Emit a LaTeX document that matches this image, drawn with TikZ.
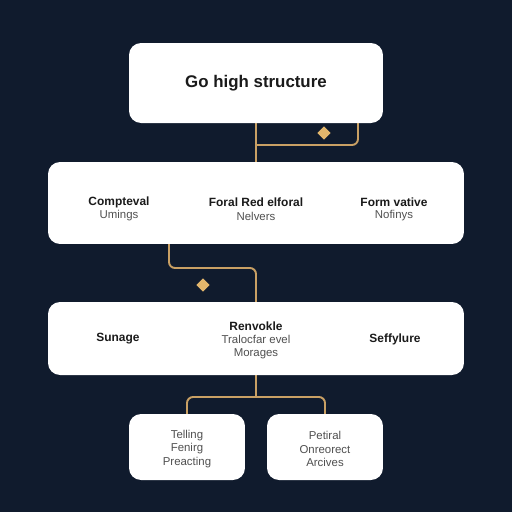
\documentclass[tikz,border=0pt]{standalone}
\usepackage{fontspec}
\setmainfont{Liberation Sans}
\usetikzlibrary{shapes.geometric}
\definecolor{fond}{HTML}{101B2D}
\definecolor{or}{HTML}{C9A064}
\definecolor{orclair}{HTML}{E2B66C}
\definecolor{encre}{HTML}{1A1A1A}
\definecolor{gris}{HTML}{505050}

\begin{document}
\begin{tikzpicture}[x=0.02cm,y=-0.02cm,
	boite/.style={rounded corners=0.24cm,fill=white,inner sep=0pt},
	titre/.style={font=\bfseries\fontsize{6.8}{7.9}\selectfont,text=encre},
	sous/.style={font=\fontsize{6.5}{7.9}\selectfont,text=gris,align=center},
	lien/.style={draw=or,line width=1.1pt,rounded corners=0.12cm},
	etoile/.style={diamond,aspect=1,fill=orclair,inner sep=0pt,minimum size=0.27cm}]

		%fond : 512 x 512 px, 1 px = 0.02 cm
		\fill[fond] (0,0) rectangle (512,512);
		\useasboundingbox (0,0) rectangle (512,512);

		%\coordinate (nom) at(x,y) : points des coudes
		\coordinate (coude 0) at(358,145);
		\coordinate (coude 1) at(169,268);
		\coordinate (fourche) at(256,397);

		%connecteurs avant les boites
		\draw[lien] (256,123) -- (256,162);
		\draw[lien] (256,145) -- (coude 0) -- (358,123);
		\draw[lien] (coude 1 |- 0,244) -- (coude 1) -- (256,268) -- (256,302);
		\draw[lien] (256,375) -- (fourche);
		\draw[lien] (187,415) |- (fourche) -| (325,415);

		%boites
		\node (node 0) at(256,83) [boite,minimum width=5.08cm,minimum height=1.6cm,font=\bfseries\fontsize{9.6}{11}\selectfont,text=encre] {Go high structure};
		\node (node 1) at(256,203) [boite,minimum width=8.32cm,minimum height=1.64cm] {};
		\node (node 2) at(256,338.5) [boite,minimum width=8.32cm,minimum height=1.46cm] {};
		\node (node 3) at(187,447) [boite,minimum width=2.32cm,minimum height=1.32cm] {};
		\node (node 4) at(325,447) [boite,minimum width=2.32cm,minimum height=1.32cm] {};

		%textes de la boite 1
		\node (titre 1a) at(119,202) [titre] {Compteval};
		\node (sous 1a) at(119,216) [sous] {Umings};
		\node (titre 1b) at(256,202) [titre] {Foral Red elforal};
		\node (sous 1b) at(256,216) [sous] {Nelvers};
		\node (titre 1c) at(394,202) [titre] {Form vative};
		\node (sous 1c) at(394,216) [sous] {Nofinys};

		%textes de la boite 2
		\node (titre 2a) at(118,339) [titre] {Sunage};
		\node (titre 2b) at(256,326) [titre] {Renvokle};
		\node (sous 2b) at(256,347) [sous] {Tralocfar evel\\Morages};
		\node (titre 2c) at(395,339) [titre] {Seffylure};

		%textes des boites du bas
		\node (sous 3) at(187,449) [sous] {Telling\\Fenirg\\Preacting};
		\node (sous 4) at(325,449) [sous] {Petiral\\Onreorect\\Arcives};

		%etoiles
		\node (etoile 0) at(324,133) [etoile] {};
		\node (etoile 1) at(203,285) [etoile] {};
\end{tikzpicture}
\end{document}
